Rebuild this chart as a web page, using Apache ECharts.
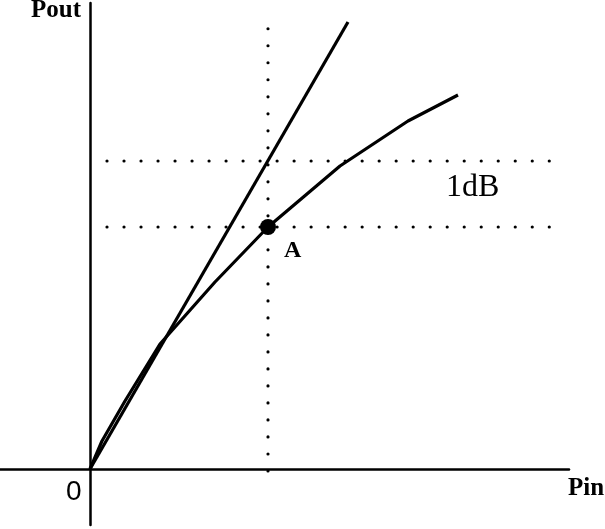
<!DOCTYPE html>
<html>
<head>
<meta charset="utf-8">
<script src="https://cdn.jsdelivr.net/npm/echarts@6/dist/echarts.min.js"></script>
<style>
  html, body { margin: 0; padding: 0; background: #fff; }
  #chart { width: 605px; height: 529px; }
</style>
</head>
<body>
<div id="chart"></div>
<script>
// Linear (ideal) gain line: Pin -> Pout
const linearPin  = [0, 258];
const linearPout = [0, 447];

// Real amplifier response, compressing at high input
const realPin  = [0, 12, 35, 70, 125, 178, 250, 318, 368];
const realPout = [0, 28, 68, 125, 187, 242, 303, 348, 374];

// 1 dB compression point A
const pointA = [178, 242];

// Reference levels: linear-gain output at P1dB and compressed output
const refLevels = [308, 242];
const refSpanPin = [17, 465];
const refSpanPout = [-2, 457];

const axisMin = { pin: -90, pout: -56 };
const axisMax = { pin: 479, pout: 466 };

const zip = (xs, ys) => xs.map((x, i) => [x, ys[i]]);

const dotStyle = {
  color: '#000',
  width: 3.2,
  type: [0.01, 17],
  cap: 'round'
};

const series = [
  {
    type: 'line',
    data: zip(linearPin, linearPout),
    showSymbol: false,
    lineStyle: { color: '#000', width: 3.2 },
    silent: true
  },
  {
    type: 'line',
    data: zip(realPin, realPout),
    showSymbol: false,
    lineStyle: { color: '#000', width: 3.2 },
    silent: true
  },
  {
    type: 'line',
    data: [[pointA[0], refSpanPout[0]], [pointA[0], refSpanPout[1]]],
    showSymbol: false,
    lineStyle: dotStyle,
    silent: true
  }
];

refLevels.forEach(level => {
  series.push({
    type: 'line',
    data: [[refSpanPin[0], level], [refSpanPin[1], level]],
    showSymbol: false,
    lineStyle: dotStyle,
    silent: true
  });
});

series.push({
  type: 'scatter',
  data: [pointA],
  symbolSize: 16,
  itemStyle: { color: '#000', opacity: 1 },
  label: {
    show: true,
    formatter: 'A',
    position: [24, 20],
    color: '#000',
    fontFamily: 'Liberation Serif',
    fontWeight: 'bold',
    fontSize: 24
  },
  silent: true,
  z: 5
});

const textStyle = (text, size, weight, family) => ({
  text: text,
  fill: '#000',
  fontSize: size,
  fontWeight: weight,
  fontFamily: family
});

const chart = echarts.init(document.getElementById('chart'), null, { renderer: 'canvas' });
chart.setOption({
  animation: false,
  backgroundColor: '#fff',
  grid: { left: 0, right: 36, top: 3, bottom: 4 },
  xAxis: {
    type: 'value',
    min: axisMin.pin,
    max: axisMax.pin,
    axisLine: { onZero: true, lineStyle: { color: '#000', width: 2.5 } },
    axisTick: { show: false },
    axisLabel: { show: false },
    splitLine: { show: false }
  },
  yAxis: {
    type: 'value',
    min: axisMin.pout,
    max: axisMax.pout,
    axisLine: { onZero: true, lineStyle: { color: '#000', width: 2.5 } },
    axisTick: { show: false },
    axisLabel: { show: false },
    splitLine: { show: false }
  },
  graphic: [
    { type: 'text', left: 31, top: -2, style: textStyle('Pout', 25, 'bold', 'Liberation Serif') },
    { type: 'text', left: 568, top: 476, style: textStyle('Pin', 25, 'bold', 'Liberation Serif') },
    { type: 'text', left: 66, top: 478, style: textStyle('0', 28, 'normal', 'Liberation Sans') },
    { type: 'text', left: 446, top: 172, style: textStyle('1dB', 32, 'normal', 'Liberation Serif') }
  ],
  series: series
});
</script>
</body>
</html>
